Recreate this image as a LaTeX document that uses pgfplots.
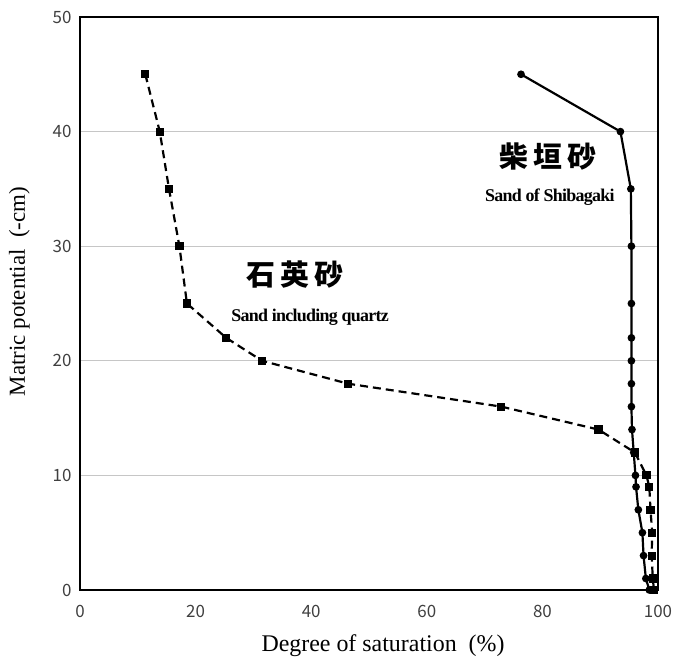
\documentclass[border=0pt]{standalone}
\usepackage{fontspec}
\setmainfont{Liberation Serif}
\newfontfamily\jpfont{Noto Sans CJK JP}
\usepackage{pgfplots}
\pgfplotsset{compat=1.18}
\begin{document}
\begin{tikzpicture}
\path[use as bounding box] (-80bp,-69bp) rectangle (604bp,590bp);
\begin{axis}[
  at={(0,0)}, anchor=south west,
  scale only axis, width=578bp, height=573bp,
  xmin=0, xmax=100, ymin=0, ymax=50,
  xtick={0,20,...,100}, ytick={0,10,...,50},
  major tick length=0pt,
  ymajorgrids, grid style={gray!45, line width=0.7pt},
  axis line style={line width=1.8pt},
  tick label style={font=\jpfont\fontsize{17}{17}\selectfont, text=black!75},
  /pgf/number format/assume math mode=true,
  xticklabel style={yshift=-12bp},
  yticklabel style={xshift=-5bp},
  xlabel={Degree of saturation\ \ (\%)},
  ylabel={Matric potential\ \ (-cm)},
  xlabel style={font=\fontsize{24}{24}\selectfont, yshift=-10bp, xshift=14bp},
  ylabel style={font=\fontsize{23}{23}\selectfont, yshift=16bp, xshift=12bp},
  clip=false,
]
\addplot[black, line width=2.2pt, dashed, dash pattern=on 8bp off 5bp, mark=square*, mark size=3pt, mark options={solid}] coordinates {
(11.3,45) (13.8,40) (15.4,35) (17.2,30) (18.5,25) (25.3,22) (31.5,20) (46.4,18) (72.9,16) (89.7,14) (96.0,12) (98.0,10) (98.5,9) (98.7,7) (99.0,5) (98.9,3) (99.1,1) (99.3,0)
};
\addplot[black, line width=2.2pt, mark=*, mark size=2.7pt] coordinates {
(76.3,45) (93.5,40) (95.3,35) (95.4,30) (95.4,25) (95.4,22) (95.4,20) (95.4,18) (95.4,16) (95.5,14) (95.8,12) (96.1,10) (96.2,9) (96.6,7) (97.3,5) (97.5,3) (97.9,1) (98.5,0)
};
\node[font=\jpfont\bfseries\fontsize{29}{29}\selectfont] at (axis cs:81.0,37.8) {柴\hspace{5bp}垣\hspace{5bp}砂};
\node[font=\bfseries\fontsize{18}{18}\selectfont] at (axis cs:81.3,34.3) {\addfontfeatures{LetterSpace=-4}Sand of Shibagaki};
\node[font=\jpfont\bfseries\fontsize{29}{29}\selectfont] at (axis cs:37.2,27.5) {石\hspace{5bp}英\hspace{5bp}砂};
\node[font=\bfseries\fontsize{18}{18}\selectfont] at (axis cs:39.8,23.8) {\addfontfeatures{LetterSpace=-4}Sand including quartz};
\end{axis}
\end{tikzpicture}
\end{document}
